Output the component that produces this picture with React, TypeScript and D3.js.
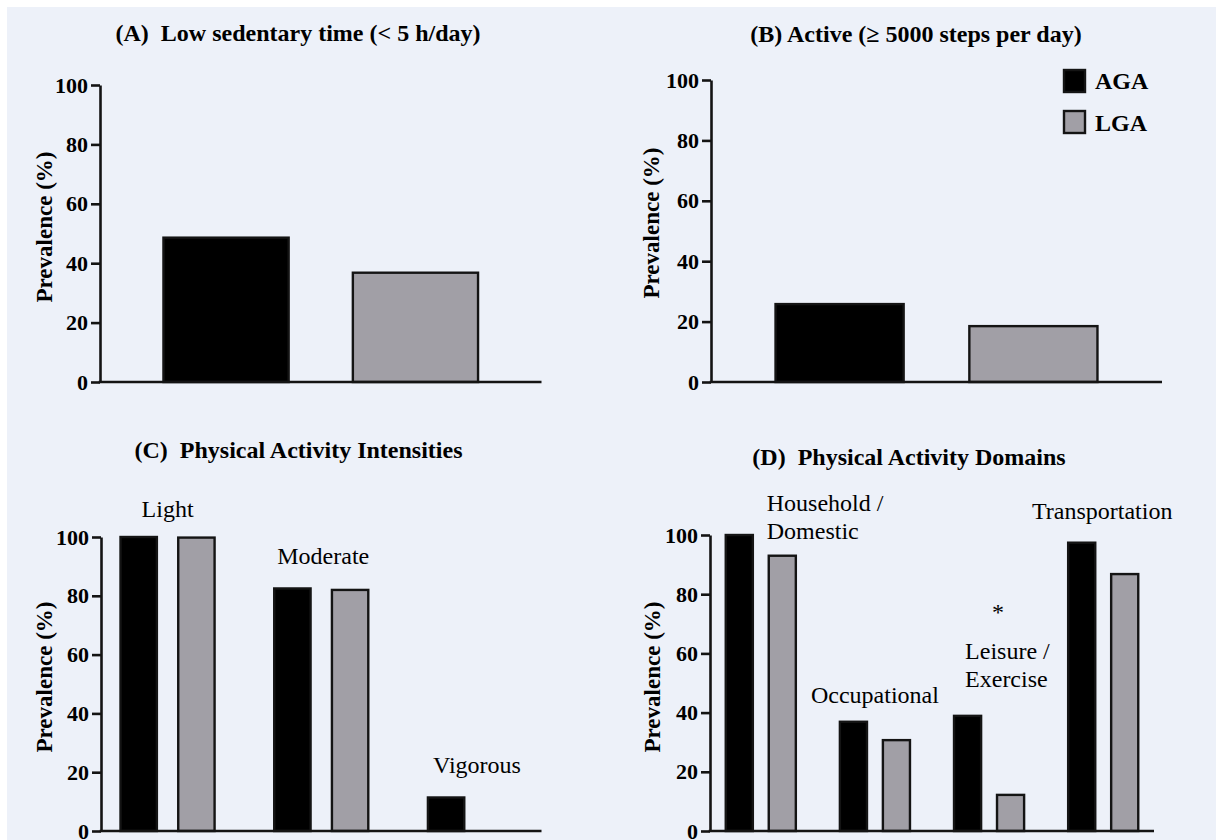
import { useEffect, useRef } from 'react';
import { axisLeft, scaleBand, scaleLinear, select } from 'd3';
import type { Selection } from 'd3';

const groups = ['AGA', 'LGA'];
const sedentaryValues = [48.6, 36.8];
const activeValues = [25.8, 18.5];

const intensityCategories = ['Light', 'Moderate', 'Vigorous'];
const intensityAGA = [100, 82.5, 11.4];
const intensityLGA = [99.8, 82.0, 0];

const domainCategories = ['Household', 'Occupational', 'Leisure', 'Transportation'];
const domainAGA = [100, 36.9, 38.9, 97.4];
const domainLGA = [93.0, 30.7, 12.2, 86.8];

const yTicks = [0, 20, 40, 60, 80, 100];

// category annotations: text lines, value at the baseline of the first line, x shift from group center
const intensityLabels = [
  { lines: ['Light'], at: 106.8, dx: 0, anchor: 'middle' },
  { lines: ['Moderate'], at: 90.8, dx: 2, anchor: 'middle' },
  { lines: ['Vigorous'], at: 19.7, dx: 2, anchor: 'middle' },
];
const domainLabels = [
  { lines: ['Household /', 'Domestic'], at: 108.1, dx: 6, anchor: 'start' },
  { lines: ['Occupational'], at: 43.2, dx: 0, anchor: 'middle' },
  { lines: ['Leisure /', 'Exercise'], at: 58.1, dx: -24, anchor: 'start' },
  { lines: ['Transportation'], at: 105.4, dx: -1, anchor: 'middle' },
];

const COLORS: Record<string, string> = { AGA: '#000000', LGA: '#a19fa6' };
const FONT = "'Liberation Serif', serif";
const INK = '#141414';

type G = Selection<SVGGElement, unknown, null, undefined>;

function drawAxes(g: G, x0: number, x1: number, y: any) {
  const ax = g.append('g')
    .attr('transform', `translate(${x0},0)`)
    .call(axisLeft(y).tickValues(yTicks).tickSize(9).tickPadding(3).tickSizeOuter(0))
    .attr('font-family', null)
    .attr('font-size', null);
  ax.select('.domain').attr('stroke', INK).attr('stroke-width', 2.6);
  ax.selectAll('.tick line').attr('stroke', INK).attr('stroke-width', 2.6);
  ax.selectAll('.tick text')
    .attr('fill', '#000')
    .style('font-family', FONT)
    .style('font-weight', 'bold')
    .style('font-size', '22px');
  g.append('line')
    .attr('x1', x0 - 1.3).attr('x2', x1)
    .attr('y1', y(0)).attr('y2', y(0))
    .attr('stroke', INK).attr('stroke-width', 2.6);
}

function drawTitle(g: G, text: string, x: number, y: number) {
  g.append('text')
    .attr('x', x).attr('y', y)
    .attr('text-anchor', 'middle')
    .style('font-family', FONT)
    .style('font-weight', 'bold')
    .style('font-size', '24px')
    .style('white-space', 'pre')
    .text(text);
}

function drawYLabel(g: G, x: number, y: number) {
  g.append('text')
    .attr('transform', `translate(${x},${y}) rotate(-90)`)
    .attr('text-anchor', 'middle')
    .style('font-family', FONT)
    .style('font-weight', 'bold')
    .style('font-size', '23px')
    .text('Prevalence (%)');
}

function drawBar(g: G, x: number, w: number, y: any, v: number, key: string) {
  if (v <= 0) return;
  g.append('rect')
    .attr('x', x).attr('y', y(v))
    .attr('width', w).attr('height', y(0) - y(v))
    .attr('fill', COLORS[key])
    .attr('stroke', INK)
    .attr('stroke-width', 2.4);
}

function drawCategoryLabels(g: G, x: any, y: any, cats: string[], labels: typeof domainLabels) {
  cats.forEach((c, i) => {
    const lab = labels[i];
    const cx = (x(c) ?? 0) + x.bandwidth() / 2 + lab.dx;
    lab.lines.forEach((line, j) => {
      g.append('text')
        .attr('x', cx)
        .attr('y', y(lab.at) + j * 27.5)
        .attr('text-anchor', lab.anchor)
        .style('font-family', FONT)
        .style('font-size', '24px')
        .text(line);
    });
  });
}

export default function App() {
  const svgRef = useRef<SVGSVGElement | null>(null);

  useEffect(() => {
    const svg = select(svgRef.current);
    svg.selectAll('*').remove();

    svg.append('rect').attr('width', 1216).attr('height', 840).attr('fill', '#ffffff');
    svg.append('rect').attr('x', 7).attr('y', 7).attr('width', 1209).attr('height', 833).attr('fill', '#edf1f9');

    const root = svg.append('g') as unknown as G;

    // (A)
    {
      const x = scaleBand<string>().domain(groups).range([100, 541.5]).paddingInner(0.339).paddingOuter(0.335);
      const y = scaleLinear().domain([0, 100]).range([382, 85]);
      groups.forEach((k, i) => drawBar(root, x(k) ?? 0, x.bandwidth(), y, sedentaryValues[i], k));
      drawAxes(root, 100, 541.5, y);
      drawTitle(root, '(A)  Low sedentary time (< 5 h/day)', 298, 41);
      drawYLabel(root, 52, 227);
    }

    // (B)
    {
      const x = scaleBand<string>().domain(groups).range([711, 1162]).paddingInner(0.339).paddingOuter(0.333);
      const y = scaleLinear().domain([0, 100]).range([382, 80]);
      groups.forEach((k, i) => drawBar(root, x(k) ?? 0, x.bandwidth(), y, activeValues[i], k));
      drawAxes(root, 711, 1162, y);
      drawTitle(root, '(B) Active (\u2265 5000 steps per day)', 916, 42);
      drawYLabel(root, 659, 223);

      groups.forEach((k, i) => {
        root.append('rect')
          .attr('x', 1064).attr('y', 70 + i * 41)
          .attr('width', 21).attr('height', 22)
          .attr('fill', COLORS[k])
          .attr('stroke', INK).attr('stroke-width', 2.4);
        root.append('text')
          .attr('x', 1095).attr('y', 89 + i * 42)
          .style('font-family', FONT).style('font-weight', 'bold').style('font-size', '24px')
          .text(k);
      });
    }

    // (C)
    {
      const x = scaleBand<string>().domain(intensityCategories).range([101, 541.5]).paddingInner(0.388).paddingOuter(0.127);
      const xs = scaleBand<string>().domain(groups).range([0, x.bandwidth()]).paddingInner(0.37);
      const y = scaleLinear().domain([0, 100]).range([831, 537]);
      intensityCategories.forEach((c, i) => {
        const x0 = x(c) ?? 0;
        drawBar(root, x0 + (xs('AGA') ?? 0), xs.bandwidth(), y, intensityAGA[i], 'AGA');
        drawBar(root, x0 + (xs('LGA') ?? 0), xs.bandwidth(), y, intensityLGA[i], 'LGA');
      });
      drawCategoryLabels(root, x, y, intensityCategories, intensityLabels);
      drawAxes(root, 101, 541.5, y);
      drawTitle(root, '(C)  Physical Activity Intensities', 298.5, 458);
      drawYLabel(root, 52, 677);
    }

    // (D)
    {
      const x = scaleBand<string>().domain(domainCategories).range([710, 1154]).paddingInner(0.386).paddingOuter(0.138);
      const xs = scaleBand<string>().domain(groups).range([0, x.bandwidth()]).paddingInner(0.37);
      const y = scaleLinear().domain([0, 100]).range([831, 535]);
      domainCategories.forEach((c, i) => {
        const x0 = x(c) ?? 0;
        drawBar(root, x0 + (xs('AGA') ?? 0), xs.bandwidth(), y, domainAGA[i], 'AGA');
        drawBar(root, x0 + (xs('LGA') ?? 0), xs.bandwidth(), y, domainLGA[i], 'LGA');
      });
      drawCategoryLabels(root, x, y, domainCategories, domainLabels);
      // significance marker above leisure
      root.append('text')
        .attr('x', (x('Leisure') ?? 0) + x.bandwidth() / 2 + 9)
        .attr('y', y(71.3))
        .attr('text-anchor', 'middle')
        .style('font-family', FONT).style('font-size', '24px')
        .text('*');
      drawAxes(root, 710, 1154, y);
      drawTitle(root, '(D)  Physical Activity Domains', 909, 465);
      drawYLabel(root, 660, 677);
    }
  }, []);

  return (
    <div style={{ position: 'fixed', left: 0, top: 0 }}>
      <svg ref={svgRef} width={1216} height={840} style={{ display: 'block' }} />
    </div>
  );
}
